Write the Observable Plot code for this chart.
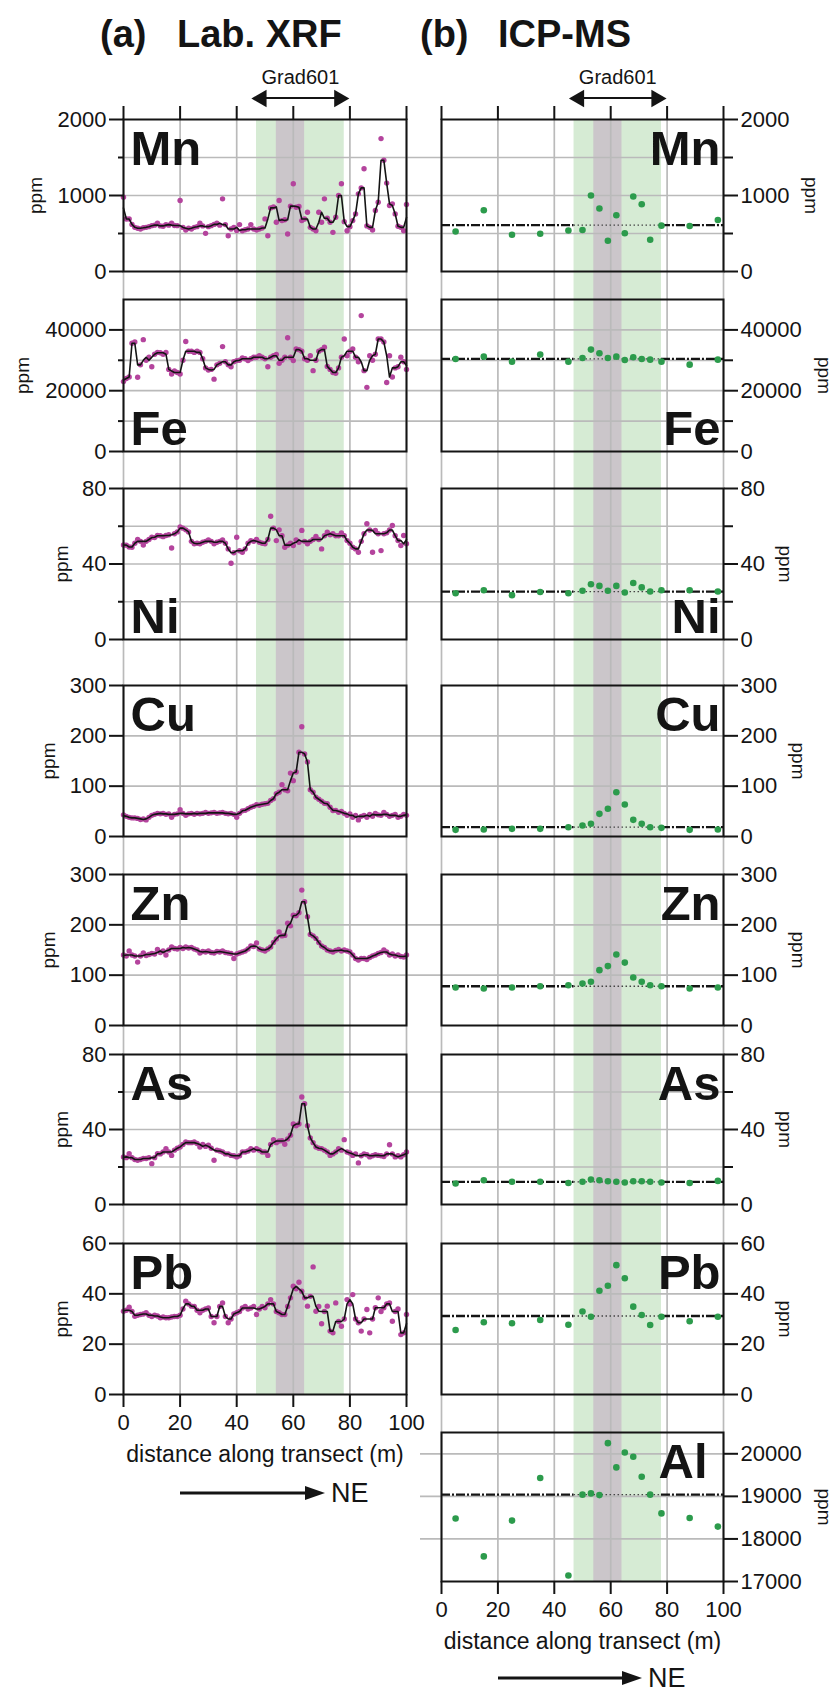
<!DOCTYPE html>
<html>
<head>
<meta charset="utf-8">
<script src="https://cdn.jsdelivr.net/npm/d3@7"></script>
<script src="https://cdn.jsdelivr.net/npm/@observablehq/plot@0.6"></script>
<style>
  body { margin: 0; background: #fff; }
  #fig { position: relative; width: 835px; height: 1695px; overflow: hidden; background: #fff;
         font-family: "Liberation Sans", Arial, Helvetica, sans-serif; }
</style>
</head>
<body>
<div id="fig"></div>
<script>
// ---------------- DATA ----------------
const distance = [0,1,2,3,4,5,6,7,8,9,10,11,12,13,14,15,16,17,18,19,20,21,22,23,24,25,26,27,28,29,30,31,32,33,34,35,36,37,38,39,40,41,42,43,44,45,46,47,48,49,50,51,52,53,54,55,56,57,58,59,60,61,62,63,64,65,66,67,68,69,70,71,72,73,74,75,76,77,78,79,80,81,82,83,84,85,86,87,88,89,90,91,92,93,94,95,96,97,98,99,100];

const mnXrf = [978,690,692,620,581,570,560,575,581,590, 603,610,634,600,595,617,610,634,605,603, 934,580,546,570,560,581,590,634,600,502, 590,603,620,634,610,956,617,471,560,581, 540,617,537,550,560,617,560,546,560,573, 692,471,837,850,648,934,670,680,493,860, 1154,846,855,670,690,780,581,560,537,780, 648,956,700,648,515,714,1000,1154,656,537, 590,670,758,1022,1100,1352,600,581,546,802, 912,1749,1463,1163,868,890,758,595,581,537, 881];
const feXrf = [23000,24000,24500,35600,36000,24400,28500,36800,30000,31000, 27900,32000,32600,32500,32000,32600,27000,25500,26500,26000, 25500,30000,36200,33000,33000,32600,33000,32600,30500,27500, 26800,27000,23800,28500,29000,34500,29500,28500,27900,29500, 29900,30000,30800,30500,29900,30500,31000,31000,31500,31000, 30500,27900,31000,31500,31900,29000,30000,31000,37400,31000, 29900,33700,33500,33000,30500,30000,31500,26600,30000,33000, 33500,34300,28000,27000,26000,25700,27500,31000,37000,31500, 33000,33700,31000,29500,44700,26600,21100,31500,30000,32000, 37000,37000,36000,22700,31500,24500,27500,27900,31000,29500, 27000];
const niXrf = [50.1,50,49,48.9,51,53,52,50.1,52,53, 54.2,54,55.1,55,54.5,55.1,55.5,48.5,56,57, 59.6,59,58.1,57,52,50.7,51,50.7,51.5,52, 52.8,52,50.7,51.5,52,52.8,51,48,40.4,46, 54.2,47,46.2,48,51,52.4,52,53,51.5,51, 50.7,53,65.3,59,52.4,58.1,55,48.9,50,51, 49.8,52.8,51.5,57.8,52,50.7,52,53,54.6,53, 48,55,56.9,55.5,56,55,55,56.5,55,52.4, 51,48.9,48,46.2,52,56,61.3,58,46.2,57.8, 56,47.1,56,56.5,58,60.4,55,52.4,49.8,55.1, 50.7];
const cuXrf = [43,40,38,37,37,36,33.8,35,33,38, 42,44,46,45,46,44,45,38,44,45, 53,46,42,45,46,44,46,45,46,48, 46,47,48,46,47,48,46,45,46,44, 38,46,51,52,55,58,60,63,62,64, 65,66,71.5,75,85,88,103,93,91,126, 111,128,167.5,218,164,148,93,88,78,74, 70,66,65,58,51.7,52,48,50,46,42, 45,38,42,33,40,42,38,44,40,46, 43,42,48,44,40,42,44,38,40,44, 42];
const znXrf = [140,138,148,140,138,126,138,144,139,141, 143,142,151,145,148,140,150,156,153,152, 155,153,156,154,155,152,150,144,147,146, 148,145,144,147,146,148,145,144,143,133, 142,144,146,148,152,158,157,164,152,150, 148,152,156,165,172,186,178,179,203,198, 219,218,224,269,246,216,181,178,173,165, 158,155,150,148,146,149,151,148,150,148, 146,140,133,130,133,133,131,135,138,140, 143,145,150,146,140,142,138,140,137,136, 140];
const asXrf = [25.4,25,27.1,25,24,23.6,24,24.5,24.5,25, 21.8,25,27.1,27,28,29.8,28,26.2,29,30, 30.7,32,33.3,33,33,33.3,32.5,30.7,32,31, 31.6,30,23.6,29,28.5,28,27,27,26.2,26, 25.4,26,28,28,28.5,29.8,29,29.8,29,28, 28,26.2,32,34.6,33,33.9,34,32.1,35,36.9, 42.9,42,42.9,57.3,53.7,42,35.5,33,30.7,30, 29.8,29,28,26.2,27,28,29.8,29,34.6,28, 27.5,26.2,27,22.2,26,27,26.5,25.4,26,26.5, 26.2,26,25.6,27,31.9,27,25.4,26,25.4,26.5, 28];
const pbXrf = [33.1,33.5,34.7,33,31.1,31.5,31.8,32,32.5,31.5, 31,31.5,31.2,30.5,30.8,30.5,30.5,30.8,31,31, 31.5,34,37.1,36,35.1,35,33.5,32.5,33.5,34, 34.4,31,28.5,31,35,36.4,31,28.5,30,32, 32.5,33,34.4,35,34,34.4,35,31.8,34,35, 34.5,36,37.7,36,33,32.5,31.8,31.8,35,38.4, 43,42,44.6,41,38.4,35.1,39,50.7,33.1,35, 28.1,33,35.1,25.2,24.5,36.4,29,27.1,30,37.7, 36,39.7,30,28.5,25.2,30,33.8,24.5,30,34.5, 38.4,33,34.5,36,36.4,29.1,33,34,23.8,24.5, 31.8];

const icpDistance = [5,15,25,35,45,50,53,56,59,62,65,68,71,74,78,88,98];
const mnIcp = [526,806,483,496,539,547,1000,828,405,741,504,987,884,418,603,599,677];
const feIcp = [30440,31200,29560,31870,29560,30770,33520,32300,30770,31200,30110,30990,30440,30220,29560,28570,30220];
const niIcp = [24.5,26.1,23.5,25.2,24.5,25.8,29.3,28.4,25.8,28.4,24.9,29.9,27.6,25.4,26.1,26.1,25.4];
const cuIcp = [13.2,13.9,15.2,15.2,18.5,21.9,25.2,45,55,88,63.6,33.1,25.2,18.5,17.2,13.2,13.9];
const znIcp = [75.5,73.5,75.5,78,80,83.4,86.8,110,118,141,125,95.4,86.8,80,78,73.5,75.5];
const asIcp = [11.2,12.9,12.1,12.1,11.5,12.1,13.3,12.9,12.4,12.1,11.7,12.4,12.4,12.1,11.7,11.5,12.6];
const pbIcp = [25.6,28.7,28.3,29.6,27.7,33,30.9,41.2,43.2,51.4,46.2,34.9,31.6,27.6,30.9,29.1,30.9];
const alIcp = [18480,17590,18430,19430,17140,19040,19070,19030,20250,19680,20030,19930,19460,19040,18600,18490,18290];
const icpBaseline = [610,30440,25.4,18.5,78,12.1,31.2,19040];

const elements = ["Mn","Fe","Ni","Cu","Zn","As","Pb","Al"];
const yDomains = [[0,2000],[0,50000],[0,80],[0,300],[0,300],[0,80],[0,60],[17000,20500]];
const majorTicks = [[0,1000,2000],[0,20000,40000],[0,40,80],[0,100,200,300],[0,100,200,300],[0,40,80],[0,20,40,60],[17000,18000,19000,20000]];
const minorTicks = [[500,1500],[10000,30000],[20,60],[],[],[20,60],[],[]];
const xDomain = [0,100];
const xTicks = [0,20,40,60,80,100];
const greenBand = [47,78];
const greyBand = [54,64];
const xLabel = "distance along transect (m)";
const zoneLabel = "Grad601";

const xrfValues = [mnXrf, feXrf, niXrf, cuXrf, znXrf, asXrf, pbXrf];
const icpValues = [mnIcp, feIcp, niIcp, cuIcp, znIcp, asIcp, pbIcp, alIcp];

// ---------------- LAYOUT ----------------
const fig = document.getElementById("fig");
const FONT = "'Liberation Sans', Arial, Helvetica, sans-serif";
const INK = "#141414";
const GRID = "#bababa";
const MAGENTA = "#b4449d";
const GREEN = "#2c9b4c";
const frameTop = [119,299,488,685,874,1054,1243,1432];
const frameH = [152,152,151,151,151,150,151,149];
const labelCorner = ["top","bottom","bottom","top","top","top","top","top"];
const PAD = 40;
const LEFT = {left: 0, width: 420, ml: 123, mr: 14, bottom: 1394};
const RIGHT = {left: 420, width: 415, ml: 21, mr: 112, bottom: 1581};

function sty() {
  return {background: "transparent", fontFamily: FONT, fontSize: "22px", color: INK, overflow: "visible"};
}
function place(el, left, top) {
  el.style.position = "absolute";
  el.style.left = left + "px";
  el.style.top = top + "px";
  fig.appendChild(el);
}

// column backgrounds: bands, vertical grid, top ticks, bottom axis
for (const col of [LEFT, RIGHT]) {
  const p = Plot.plot({
    width: col.width, height: 1695,
    marginLeft: col.ml, marginRight: col.mr,
    marginTop: frameTop[0], marginBottom: 1695 - col.bottom,
    x: {domain: xDomain, axis: null},
    style: sty(),
    marks: [
      Plot.rect([greenBand], {x1: d => d[0], x2: d => d[1], fill: "#d6ebd4"}),
      Plot.rect([greyBand], {x1: d => d[0], x2: d => d[1], fill: "#cbc6ca"}),
      Plot.ruleX(xTicks, {stroke: GRID, strokeWidth: 1.7}),
      Plot.axisX(xTicks, {anchor: "top", tickSize: 14, tickFormat: () => "", label: null, stroke: INK, strokeWidth: 2}),
      Plot.axisX(xTicks, {anchor: "bottom", tickSize: 13, tickPadding: 7, label: null, stroke: INK, strokeWidth: 2, fontSize: 22}),
      Plot.text([xLabel], {frameAnchor: "bottom", dy: 51, lineAnchor: "top", fontSize: 23, fill: INK})
    ]
  });
  place(p, col.left, 0);
}

// horizontal grid per row (spanning across the column gap)
for (let i = 0; i < elements.length; i++) {
  const dom = yDomains[i];
  const vals = [...majorTicks[i], ...minorTicks[i]].filter(v => v > dom[0] && v < dom[1]);
  const gl = i < 7 ? LEFT.left + LEFT.ml : 420;
  const gr = RIGHT.left + RIGHT.width - RIGHT.mr;
  const p = Plot.plot({
    width: gr - gl, height: frameH[i] + 2 * PAD,
    marginLeft: 0, marginRight: 0, marginTop: PAD, marginBottom: PAD,
    y: {domain: dom, axis: null},
    style: sty(),
    marks: [Plot.ruleY(vals, {stroke: GRID, strokeWidth: 1.7})]
  });
  place(p, gl, frameTop[i] - PAD);
}

// Grad601 annotation strips (double arrow spanning the green zone)
const STRIP_H = 76;
for (const col of [LEFT, RIGHT]) {
  const p = Plot.plot({
    width: col.width, height: STRIP_H,
    marginLeft: col.ml, marginRight: col.mr, marginTop: 0, marginBottom: 0,
    x: {domain: xDomain, axis: null},
    style: sty(),
    marks: [
      Plot.rect([greenBand], {x1: d => d[0], x2: d => d[1], insetLeft: 6, insetRight: 6,
        insetTop: STRIP_H / 2 - 1, insetBottom: STRIP_H / 2 - 1, fill: INK}),
      Plot.dot([greenBand], {x: d => d[0], symbol: "triangle", rotate: -90, r: 6.5, fill: INK, stroke: null, dx: 5}),
      Plot.dot([greenBand], {x: d => d[1], symbol: "triangle", rotate: 90, r: 6.5, fill: INK, stroke: null, dx: -5}),
      Plot.text([greenBand], {x: d => (d[0] + d[1]) / 2, text: () => zoneLabel, dy: -21, fontSize: 20, fill: INK})
    ]
  });
  place(p, col.left, 60);
}

// panels
function panel(i, side) {
  const isLeft = side === "left";
  const col = isLeft ? LEFT : RIGHT;
  const dom = yDomains[i];
  const marks = [];
  if (isLeft) {
    const data = distance.map((d, j) => ({d, v: xrfValues[i][j]}));
    marks.push(Plot.dot(data, {x: "d", y: "v", r: 2.7, fill: MAGENTA}));
    marks.push(Plot.line(data, Plot.windowY({k: 3, reduce: "median"}, {x: "d", y: "v", stroke: INK, strokeWidth: 1.6})));
  } else {
    const data = icpDistance.map((d, j) => ({d, v: icpValues[i][j]}));
    const base = icpBaseline[i];
    const segs = [
      {x1: xDomain[0], x2: greenBand[0], kind: "dash"},
      {x1: greenBand[0], x2: greenBand[1], kind: "dot"},
      {x1: greenBand[1], x2: xDomain[1], kind: "dash"}
    ];
    marks.push(Plot.ruleY(segs.filter(s => s.kind === "dash"), {y: () => base, x1: "x1", x2: "x2", stroke: INK, strokeWidth: 2.3, strokeDasharray: "9,2,2,2"}));
    marks.push(Plot.ruleY(segs.filter(s => s.kind === "dot"), {y: () => base, x1: "x1", x2: "x2", stroke: "#444", strokeWidth: 1.3, strokeDasharray: "1.5,2.5"}));
    marks.push(Plot.dot(data, {x: "d", y: "v", r: 3.3, fill: GREEN}));
  }
  marks.push(Plot.frame({stroke: INK, strokeWidth: 2}));
  marks.push(Plot.axisY(majorTicks[i], {anchor: side, tickSize: 14, tickPadding: 3, tickFormat: d => String(d), label: null, stroke: INK, strokeWidth: 2}));
  if (minorTicks[i].length) {
    marks.push(Plot.axisY(minorTicks[i], {anchor: side, tickSize: isLeft ? 5 : 9, tickFormat: () => "", label: null, stroke: INK, strokeWidth: 2}));
  }
  const nChars = d3.max(majorTicks[i], t => String(t).length);
  const off = 36 + 13 * nChars;
  marks.push(Plot.text(["ppm"], {frameAnchor: side, dx: isLeft ? -off : off, rotate: isLeft ? -90 : 90,
    fontSize: 19, textAnchor: "middle", lineAnchor: "middle", fill: INK}));
  const corner = labelCorner[i];
  marks.push(Plot.text([elements[i]], {
    frameAnchor: corner + "-" + side,
    dx: isLeft ? 7 : (elements[i] === "Al" ? -16 : -3),
    dy: corner === "top" ? 11 : -7,
    lineAnchor: corner, textAnchor: isLeft ? "start" : "end",
    fontSize: 49, fontWeight: "bold", fill: INK
  }));
  const p = Plot.plot({
    width: col.width, height: frameH[i] + 2 * PAD,
    marginLeft: col.ml, marginRight: col.mr, marginTop: PAD, marginBottom: PAD,
    x: {domain: xDomain, axis: null},
    y: {domain: dom, axis: null},
    style: sty(),
    marks
  });
  place(p, col.left, frameTop[i] - PAD);
}
for (let i = 0; i < 7; i++) panel(i, "left");
for (let i = 0; i < 8; i++) panel(i, "right");

// titles and direction arrows
const ov = d3.create("svg").attr("width", 835).attr("height", 1695)
  .style("font-family", FONT).style("pointer-events", "none");
const titles = [["(a)", 100], ["Lab. XRF", 177], ["(b)", 420], ["ICP-MS", 498]];
for (const [t, x] of titles) {
  ov.append("text").attr("x", x).attr("y", 47).attr("font-size", 38).attr("font-weight", "bold")
    .attr("fill", INK).text(t);
}
for (const [x0, x1, y] of [[180, 325, 1493], [498, 642, 1678]]) {
  ov.append("line").attr("x1", x0).attr("x2", x1 - 14).attr("y1", y).attr("y2", y)
    .attr("stroke", INK).attr("stroke-width", 3);
  ov.append("path").attr("d", `M${x1},${y} L${x1 - 20},${y - 7} L${x1 - 20},${y + 7} Z`).attr("fill", INK);
  ov.append("text").attr("x", x1 + 6).attr("y", y + 9).attr("font-size", 27).attr("fill", INK).text("NE");
}
place(ov.node(), 0, 0);
</script>
</body>
</html>
